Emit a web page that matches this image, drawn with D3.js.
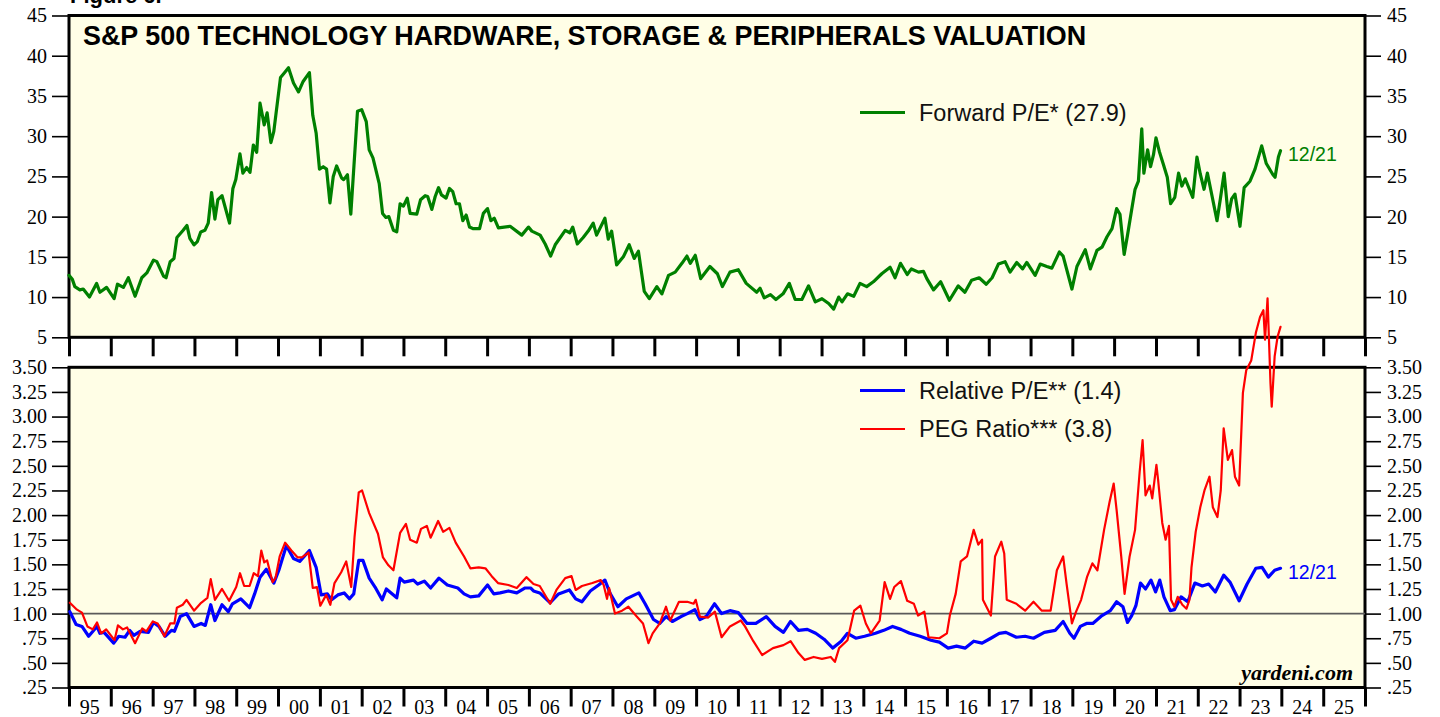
<!DOCTYPE html>
<html>
<head>
<meta charset="utf-8">
<script src="https://cdn.jsdelivr.net/npm/d3@7"></script>
<style>
  body { margin: 0; background: #fff; }
  svg { display: block; }
</style>
</head>
<body>
<svg id="chart" width="1440" height="717"></svg>
<script>
// values, [decimal year, value]
var forwardPE = [
  [1995.00,12.7],[1995.08,12.2],[1995.14,11.3],[1995.26,10.9],[1995.34,11.0],[1995.49,10.0],[1995.66,11.7],[1995.74,10.6],[1995.90,11.2],
  [1996.08,9.8],[1996.16,11.6],[1996.30,11.2],[1996.42,12.4],[1996.58,10.1],[1996.74,12.4],[1996.86,13.0],
  [1997.02,14.6],[1997.10,14.4],[1997.26,12.6],[1997.32,12.4],[1997.42,14.4],[1997.51,14.8],[1997.58,17.4],[1997.73,18.3],[1997.82,18.9],[1997.89,17.3],[1997.99,16.5],
  [1998.07,16.9],[1998.15,18.1],[1998.25,18.3],[1998.33,19.2],[1998.41,23.0],[1998.49,19.7],[1998.56,22.1],[1998.66,22.6],[1998.84,19.2],[1998.92,23.5],[1998.99,24.6],
  [1999.09,27.8],[1999.16,25.4],[1999.25,26.1],[1999.33,25.5],[1999.41,28.9],[1999.49,28.0],[1999.57,34.1],[1999.67,31.4],[1999.74,32.9],[1999.83,29.2],[1999.90,30.6],
  [2000.06,37.3],[2000.14,37.8],[2000.25,38.5],[2000.37,36.6],[2000.49,35.5],[2000.60,36.8],[2000.75,37.9],[2000.83,32.6],[2000.91,30.4],[2000.99,25.9],
  [2001.08,26.2],[2001.16,25.9],[2001.24,21.7],[2001.32,25.0],[2001.40,26.3],[2001.52,24.8],[2001.57,24.6],[2001.66,25.2],[2001.74,20.3],[2001.90,33.1],
  [2002.00,33.3],[2002.11,31.8],[2002.18,28.3],[2002.27,27.3],[2002.42,24.1],[2002.50,20.4],[2002.58,19.9],[2002.65,20.0],[2002.76,18.3],[2002.84,18.1],[2002.92,21.6],
  [2003.00,21.3],[2003.09,22.3],[2003.16,20.4],[2003.32,20.3],[2003.41,22.1],[2003.52,22.6],[2003.58,22.5],[2003.68,20.9],[2003.76,22.5],[2003.84,23.6],[2003.91,22.7],
  [2004.02,22.3],[2004.10,23.5],[2004.18,23.1],[2004.26,21.6],[2004.34,21.6],[2004.42,19.5],[2004.50,20.2],[2004.58,18.7],[2004.67,18.5],[2004.82,18.5],[2004.91,20.4],
  [2005.01,21.0],[2005.09,19.5],[2005.17,19.8],[2005.27,18.6],[2005.55,18.8],[2005.83,17.7],[2005.99,18.7],
  [2006.07,18.2],[2006.27,17.7],[2006.39,16.6],[2006.52,15.1],[2006.63,16.5],[2006.87,18.3],[2006.98,18.0],
  [2007.05,18.7],[2007.16,16.6],[2007.30,17.4],[2007.42,18.2],[2007.54,19.2],[2007.62,17.7],[2007.82,19.8],[2007.90,17.2],[2007.98,18.2],
  [2008.10,14.0],[2008.26,15.0],[2008.40,16.5],[2008.52,14.8],[2008.62,15.7],[2008.76,10.7],[2008.88,9.8],
  [2009.06,11.3],[2009.18,10.4],[2009.34,12.7],[2009.50,13.1],[2009.66,14.2],[2009.78,15.1],[2009.86,14.2],[2009.98,15.2],
  [2010.11,12.3],[2010.33,13.8],[2010.51,12.9],[2010.63,11.3],[2010.81,13.1],
  [2011.01,13.4],[2011.20,11.7],[2011.45,10.6],[2011.53,11.1],[2011.63,9.9],[2011.78,10.3],[2011.91,9.7],
  [2012.08,10.4],[2012.23,11.7],[2012.37,9.7],[2012.53,9.7],[2012.69,11.4],[2012.85,9.4],
  [2013.01,9.8],[2013.17,9.2],[2013.29,8.5],[2013.41,10.0],[2013.49,9.4],[2013.62,10.4],[2013.77,10.1],[2013.92,11.7],
  [2014.08,11.3],[2014.24,11.9],[2014.44,12.9],[2014.64,13.7],[2014.76,12.4],[2014.89,14.2],
  [2015.05,12.8],[2015.15,13.5],[2015.32,13.1],[2015.44,13.2],[2015.52,12.3],[2015.68,10.9],[2015.85,11.9],
  [2016.06,9.6],[2016.27,11.4],[2016.43,10.6],[2016.59,12.1],[2016.77,12.4],[2016.94,11.6],
  [2017.08,12.4],[2017.23,14.1],[2017.39,14.4],[2017.51,13.1],[2017.67,14.3],[2017.81,13.5],[2017.91,14.3],
  [2018.11,12.7],[2018.23,14.1],[2018.39,13.8],[2018.51,13.6],[2018.69,15.6],[2018.78,15.1],[2018.99,11.0],
  [2019.11,13.8],[2019.31,15.9],[2019.43,13.5],[2019.59,15.8],[2019.71,16.2],[2019.83,17.5],[2019.95,18.5],
  [2020.06,21.0],[2020.14,20.3],[2020.24,15.3],[2020.32,17.7],[2020.42,20.9],[2020.50,23.4],[2020.58,24.4],[2020.66,30.9],[2020.71,25.4],[2020.80,28.3],[2020.87,26.2],[2020.94,27.7],
  [2021.00,29.8],[2021.08,28.1],[2021.17,26.6],[2021.27,24.9],[2021.35,21.6],[2021.45,22.4],[2021.54,25.4],[2021.62,23.8],[2021.70,24.7],[2021.80,23.4],[2021.88,22.4],[2021.98,27.4],
  [2022.06,25.3],[2022.15,23.4],[2022.23,25.4],[2022.34,22.6],[2022.46,19.5],[2022.54,22.2],[2022.63,25.4],[2022.73,20.0],[2022.81,22.2],[2022.89,22.8],
  [2023.01,18.8],[2023.11,23.6],[2023.25,24.4],[2023.37,25.9],[2023.53,28.8],[2023.64,26.6],[2023.80,25.2],[2023.85,24.9],[2023.93,27.4],[2023.98,28.2]
];

var relativePE = [
  [1995.02,1.02],[1995.17,0.89],[1995.31,0.87],[1995.47,0.77],[1995.67,0.87],[1995.74,0.80],[1995.84,0.81],
  [1996.07,0.70],[1996.19,0.77],[1996.34,0.76],[1996.45,0.83],[1996.55,0.78],[1996.70,0.82],[1996.90,0.81],
  [1997.02,0.91],[1997.15,0.87],[1997.30,0.77],[1997.45,0.83],[1997.52,0.82],[1997.66,0.97],[1997.81,1.00],[1997.99,0.87],
  [1998.16,0.90],[1998.26,0.88],[1998.39,1.09],[1998.49,0.93],[1998.66,1.09],[1998.81,1.02],[1998.91,1.10],
  [1999.11,1.15],[1999.32,1.06],[1999.44,1.20],[1999.57,1.37],[1999.72,1.45],[1999.90,1.31],
  [2000.02,1.44],[2000.20,1.69],[2000.37,1.56],[2000.52,1.53],[2000.75,1.64],[2000.91,1.47],
  [2001.03,1.19],[2001.18,1.20],[2001.28,1.14],[2001.43,1.19],[2001.58,1.21],[2001.71,1.15],[2001.81,1.20],[2001.93,1.54],
  [2002.03,1.54],[2002.18,1.36],[2002.32,1.27],[2002.49,1.14],[2002.59,1.25],[2002.84,1.16],[2002.92,1.36],
  [2003.02,1.32],[2003.24,1.34],[2003.34,1.30],[2003.50,1.33],[2003.65,1.26],[2003.85,1.36],
  [2004.05,1.29],[2004.30,1.26],[2004.45,1.20],[2004.60,1.17],[2004.80,1.18],
  [2005.01,1.29],[2005.16,1.20],[2005.31,1.21],[2005.51,1.23],[2005.71,1.21],[2005.91,1.26],
  [2006.04,1.26],[2006.11,1.23],[2006.26,1.21],[2006.51,1.11],[2006.71,1.20],[2006.97,1.24],
  [2007.12,1.15],[2007.27,1.12],[2007.47,1.23],[2007.67,1.29],[2007.82,1.34],[2007.95,1.20],
  [2008.13,1.07],[2008.33,1.15],[2008.63,1.21],[2008.78,1.10],[2008.98,0.94],
  [2009.13,0.90],[2009.28,0.97],[2009.43,0.92],[2009.64,0.97],[2009.79,1.00],[2009.97,1.04],
  [2010.09,0.94],[2010.24,0.97],[2010.44,1.10],[2010.61,1.00],[2010.81,1.03],
  [2011.01,1.01],[2011.22,0.90],[2011.43,0.90],[2011.68,0.97],[2011.89,0.87],
  [2012.09,0.81],[2012.26,0.92],[2012.45,0.83],[2012.66,0.84],[2012.86,0.80],
  [2013.06,0.74],[2013.27,0.65],[2013.47,0.72],[2013.62,0.80],[2013.82,0.75],
  [2014.03,0.77],[2014.29,0.80],[2014.49,0.83],[2014.70,0.87],[2014.90,0.84],
  [2015.11,0.80],[2015.36,0.77],[2015.62,0.73],[2015.82,0.71],
  [2016.03,0.65],[2016.23,0.67],[2016.44,0.65],[2016.64,0.72],[2016.84,0.70],
  [2017.05,0.75],[2017.25,0.80],[2017.41,0.81],[2017.66,0.76],[2017.87,0.77],
  [2018.07,0.75],[2018.33,0.81],[2018.59,0.83],[2018.78,0.92],[2018.94,0.80],
  [2019.04,0.75],[2019.19,0.87],[2019.34,0.90],[2019.49,0.90],[2019.71,0.98],[2019.91,1.03],
  [2020.06,1.12],[2020.21,1.07],[2020.32,0.91],[2020.42,0.98],[2020.52,1.08],[2020.63,1.31],[2020.75,1.25],[2020.88,1.34],[2020.99,1.22],
  [2021.09,1.34],[2021.19,1.17],[2021.34,1.03],[2021.44,1.04],[2021.60,1.17],[2021.76,1.12],[2021.93,1.31],
  [2022.11,1.28],[2022.26,1.30],[2022.42,1.22],[2022.62,1.39],[2022.77,1.32],[2022.99,1.13],
  [2023.18,1.30],[2023.39,1.46],[2023.54,1.47],[2023.69,1.37],[2023.84,1.44],[2023.98,1.46]
];

var pegRatio = [
  [1995.02,1.11],[1995.19,1.04],[1995.31,1.01],[1995.44,0.87],[1995.57,0.84],[1995.67,0.91],[1995.77,0.80],[1995.89,0.84],
  [1996.09,0.73],[1996.17,0.88],[1996.29,0.84],[1996.39,0.86],[1996.58,0.70],[1996.75,0.85],[1996.85,0.82],
  [1997.00,0.92],[1997.12,0.90],[1997.28,0.77],[1997.42,0.90],[1997.52,0.90],[1997.58,1.06],[1997.72,1.09],[1997.81,1.14],[1997.99,1.03],
  [1998.16,1.11],[1998.31,1.16],[1998.39,1.35],[1998.49,1.14],[1998.66,1.25],[1998.83,1.13],
  [1999.00,1.27],[1999.09,1.41],[1999.19,1.28],[1999.32,1.28],[1999.42,1.41],[1999.52,1.38],[1999.60,1.64],[1999.67,1.52],[1999.74,1.54],[1999.87,1.32],[1999.94,1.36],
  [2000.04,1.58],[2000.17,1.72],[2000.32,1.64],[2000.47,1.57],[2000.57,1.57],[2000.73,1.62],[2000.83,1.26],[2000.93,1.27],
  [2001.01,1.08],[2001.15,1.19],[2001.25,1.09],[2001.35,1.31],[2001.51,1.42],[2001.63,1.53],[2001.75,1.27],[2001.83,1.78],[2001.93,2.23],
  [2002.01,2.25],[2002.18,2.02],[2002.39,1.81],[2002.51,1.57],[2002.64,1.49],[2002.76,1.44],[2002.92,1.82],
  [2003.06,1.91],[2003.16,1.75],[2003.32,1.72],[2003.42,1.86],[2003.56,1.89],[2003.65,1.77],[2003.83,1.94],[2003.95,1.83],
  [2004.10,1.87],[2004.25,1.72],[2004.45,1.58],[2004.60,1.46],[2004.80,1.47],[2004.96,1.46],
  [2005.11,1.38],[2005.26,1.31],[2005.51,1.29],[2005.71,1.26],[2005.94,1.37],
  [2006.11,1.30],[2006.26,1.28],[2006.51,1.10],[2006.66,1.24],[2006.87,1.36],
  [2007.02,1.38],[2007.12,1.24],[2007.27,1.28],[2007.52,1.31],[2007.72,1.34],[2007.79,1.29],[2007.87,1.15],[2007.92,1.26],
  [2008.06,1.00],[2008.23,1.03],[2008.38,1.07],[2008.58,0.97],[2008.73,0.90],[2008.86,0.70],[2008.96,0.80],
  [2009.13,0.90],[2009.28,1.07],[2009.38,0.93],[2009.59,1.12],[2009.79,1.12],[2009.94,1.10],[2009.99,1.14],
  [2010.09,0.97],[2010.29,0.96],[2010.45,1.02],[2010.61,0.76],[2010.81,0.87],
  [2011.07,0.93],[2011.17,0.87],[2011.37,0.72],[2011.58,0.58],[2011.84,0.65],
  [2012.09,0.68],[2012.26,0.72],[2012.45,0.60],[2012.60,0.53],[2012.81,0.56],
  [2013.01,0.54],[2013.22,0.56],[2013.32,0.51],[2013.42,0.65],[2013.62,0.73],[2013.78,1.03],[2013.93,1.08],
  [2014.06,0.90],[2014.18,0.80],[2014.39,0.93],[2014.51,1.32],[2014.64,1.15],[2014.74,1.27],[2014.90,1.33],
  [2015.05,1.13],[2015.21,1.10],[2015.31,0.98],[2015.46,1.02],[2015.56,0.76],[2015.82,0.75],
  [2016.00,0.80],[2016.07,0.98],[2016.21,1.20],[2016.33,1.53],[2016.48,1.58],[2016.64,1.85],[2016.75,1.70],[2016.84,1.75],[2016.86,1.14],
  [2017.05,0.98],[2017.15,1.58],[2017.30,1.73],[2017.37,1.61],[2017.43,1.14],[2017.66,1.10],[2017.87,1.03],
  [2018.07,1.12],[2018.27,1.03],[2018.48,1.03],[2018.63,1.44],[2018.78,1.58],[2018.86,1.31],[2018.99,0.90],
  [2019.09,1.02],[2019.21,1.14],[2019.35,1.37],[2019.48,1.51],[2019.60,1.44],[2019.76,1.85],[2019.89,2.13],[2019.99,2.32],
  [2020.06,2.05],[2020.17,1.58],[2020.25,1.20],[2020.37,1.58],[2020.50,1.85],[2020.61,2.44],[2020.68,2.76],[2020.75,2.20],[2020.85,2.30],[2020.91,2.17],
  [2021.01,2.51],[2021.05,2.36],[2021.15,1.92],[2021.23,1.75],[2021.31,1.89],[2021.36,1.14],[2021.44,1.07],[2021.52,1.17],[2021.63,1.09],[2021.73,1.05],[2021.80,1.14],[2021.85,1.47],[2021.95,1.83],
  [2022.06,2.08],[2022.16,2.25],[2022.28,2.39],[2022.36,2.08],[2022.47,1.98],[2022.55,2.25],[2022.62,2.88],[2022.72,2.56],[2022.82,2.66],[2022.89,2.39],[2022.99,2.30],
  [2023.08,3.24],[2023.16,3.47],[2023.28,3.57],[2023.39,3.85],[2023.49,4.01],[2023.57,4.08],[2023.61,3.78],[2023.67,4.20],[2023.74,3.34],[2023.77,3.10],[2023.84,3.61],[2023.91,3.81],[2023.98,3.91]
];

var topTicks = [5, 10, 15, 20, 25, 30, 35, 40, 45];
var bottomTicks = [0.25, 0.5, 0.75, 1, 1.25, 1.5, 1.75, 2, 2.25, 2.5, 2.75, 3, 3.25, 3.5];
var yearLabels = ['95','96','97','98','99','00','01','02','03','04','05','06','07','08','09','10',
  '11','12','13','14','15','16','17','18','19','20','21','22','23','24','25'];

var TITLE = 'S&P 500 TECHNOLOGY HARDWARE, STORAGE & PERIPHERALS VALUATION';
var SERIF = "'Liberation Serif', 'Times New Roman', serif";
var SANS = "'Liberation Sans', Arial, sans-serif";
var BG = '#fffee6';

function toDate(d) {
  var y = Math.floor(d);
  var a = new Date(y, 0, 1).getTime(), b = new Date(y + 1, 0, 1).getTime();
  return new Date(a + (d - y) * (b - a));
}

var svg = d3.select('#chart');
var L = 69, R = 1365;
var topY0 = 15.5, topY1 = 337.3, botY0 = 367.3, botY1 = 687.5;

var x = d3.scaleTime().domain([new Date(1995, 0, 1), new Date(2026, 0, 1)]).range([L, R]);
var yTop = d3.scaleLinear().domain([5, 45]).range([topY1, topY0]);
var yBot = d3.scaleLinear().domain([0.25, 3.5]).range([botY1, botY0]);

// figure caption, mostly above the top edge as in the source
svg.append('text').attr('x', 70).attr('y', 3)
  .attr('font-family', SANS).attr('font-weight', 'bold').attr('font-size', '22px')
  .text('Figure 6.');

// panel backgrounds
[[topY0, topY1], [botY0, botY1]].forEach(function(p) {
  svg.append('rect').attr('x', L).attr('y', p[0]).attr('width', R - L).attr('height', p[1] - p[0])
    .attr('fill', BG).attr('stroke', '#000').attr('stroke-width', 3);
});

function fmtBot(v) {
  return d3.format('.2f')(v).replace(/^0/, '');
}

function styleAxis(g) {
  g.select('.domain').remove();
  g.selectAll('.tick line').attr('stroke', '#000').attr('stroke-width', 1.6);
  g.selectAll('.tick text').attr('font-family', SERIF).attr('font-size', '20px').attr('fill', '#000');
}

svg.append('g').attr('transform', 'translate(' + L + ',0)')
  .call(d3.axisLeft(yTop).tickValues(topTicks).tickSize(17).tickPadding(5).tickFormat(d3.format('d')))
  .call(styleAxis);
svg.append('g').attr('transform', 'translate(' + R + ',0)')
  .call(d3.axisRight(yTop).tickValues(topTicks).tickSize(16).tickPadding(6).tickFormat(d3.format('d')))
  .call(styleAxis);
svg.append('g').attr('transform', 'translate(' + L + ',0)')
  .call(d3.axisLeft(yBot).tickValues(bottomTicks).tickSize(17).tickPadding(5).tickFormat(fmtBot))
  .call(styleAxis);
svg.append('g').attr('transform', 'translate(' + R + ',0)')
  .call(d3.axisRight(yBot).tickValues(bottomTicks).tickSize(16).tickPadding(6).tickFormat(fmtBot))
  .call(styleAxis);

// year ticks under both panels
var yearTicks = d3.timeYear.range(new Date(1995, 0, 1), new Date(2026, 0, 2));
[topY1, botY1].forEach(function(yy) {
  svg.append('g').attr('transform', 'translate(0,' + yy + ')')
    .call(d3.axisBottom(x).tickValues(yearTicks).tickSize(19).tickFormat(''))
    .call(function(g) {
      g.select('.domain').remove();
      g.selectAll('.tick line').attr('stroke', '#000').attr('stroke-width', 3);
    });
});

svg.append('g').selectAll('text').data(yearLabels).enter().append('text')
  .attr('x', function(d, i) { return x(new Date(1995 + i, 6, 2)); })
  .attr('y', 714)
  .attr('text-anchor', 'middle')
  .attr('font-family', SERIF).attr('font-size', '20px')
  .text(function(d) { return d; });

// 1.00 reference line
svg.append('line').attr('x1', L).attr('x2', R).attr('y1', yBot(1)).attr('y2', yBot(1))
  .attr('stroke', '#5a5a5a').attr('stroke-width', 1.6);

// title
svg.append('text').attr('x', 83).attr('y', 45)
  .attr('font-family', SANS).attr('font-weight', 'bold').attr('font-size', '26.9px')
  .text(TITLE);

function drawSeries(data, yScale, color, width) {
  var line = d3.line()
    .x(function(d) { return x(toDate(d[0])); })
    .y(function(d) { return yScale(d[1]); });
  svg.append('path').datum(data)
    .attr('d', line)
    .attr('fill', 'none')
    .attr('stroke', color)
    .attr('stroke-width', width)
    .attr('stroke-linejoin', 'round')
    .attr('stroke-linecap', 'round');
}

drawSeries(forwardPE, yTop, '#008000', 3.2);
drawSeries(relativePE, yBot, '#0000ff', 3.2);
drawSeries(pegRatio, yBot, '#ff0000', 2.2);

// legends
function legendItem(y, color, width, label) {
  svg.append('line').attr('x1', 860).attr('x2', 905).attr('y1', y).attr('y2', y)
    .attr('stroke', color).attr('stroke-width', width);
  svg.append('text').attr('x', 919).attr('y', y + 8)
    .attr('font-family', SANS).attr('font-size', '23.5px').attr('fill', '#111')
    .text(label);
}
legendItem(112.5, '#008000', 3.2, 'Forward P/E* (27.9)');
legendItem(390.5, '#0000ff', 3.2, 'Relative P/E** (1.4)');
legendItem(429, '#ff0000', 2.2, 'PEG Ratio*** (3.8)');

// end-date labels
svg.append('text').attr('x', 1288).attr('y', 161)
  .attr('font-family', SANS).attr('font-size', '19.5px').attr('fill', '#008000').text('12/21');
svg.append('text').attr('x', 1288).attr('y', 578.5)
  .attr('font-family', SANS).attr('font-size', '19.5px').attr('fill', '#0000ff').text('12/21');

svg.append('text').attr('x', 1353).attr('y', 680)
  .attr('text-anchor', 'end')
  .attr('font-family', SERIF).attr('font-weight', 'bold').attr('font-style', 'italic').attr('font-size', '22px')
  .text('yardeni.com');
</script>
</body>
</html>
